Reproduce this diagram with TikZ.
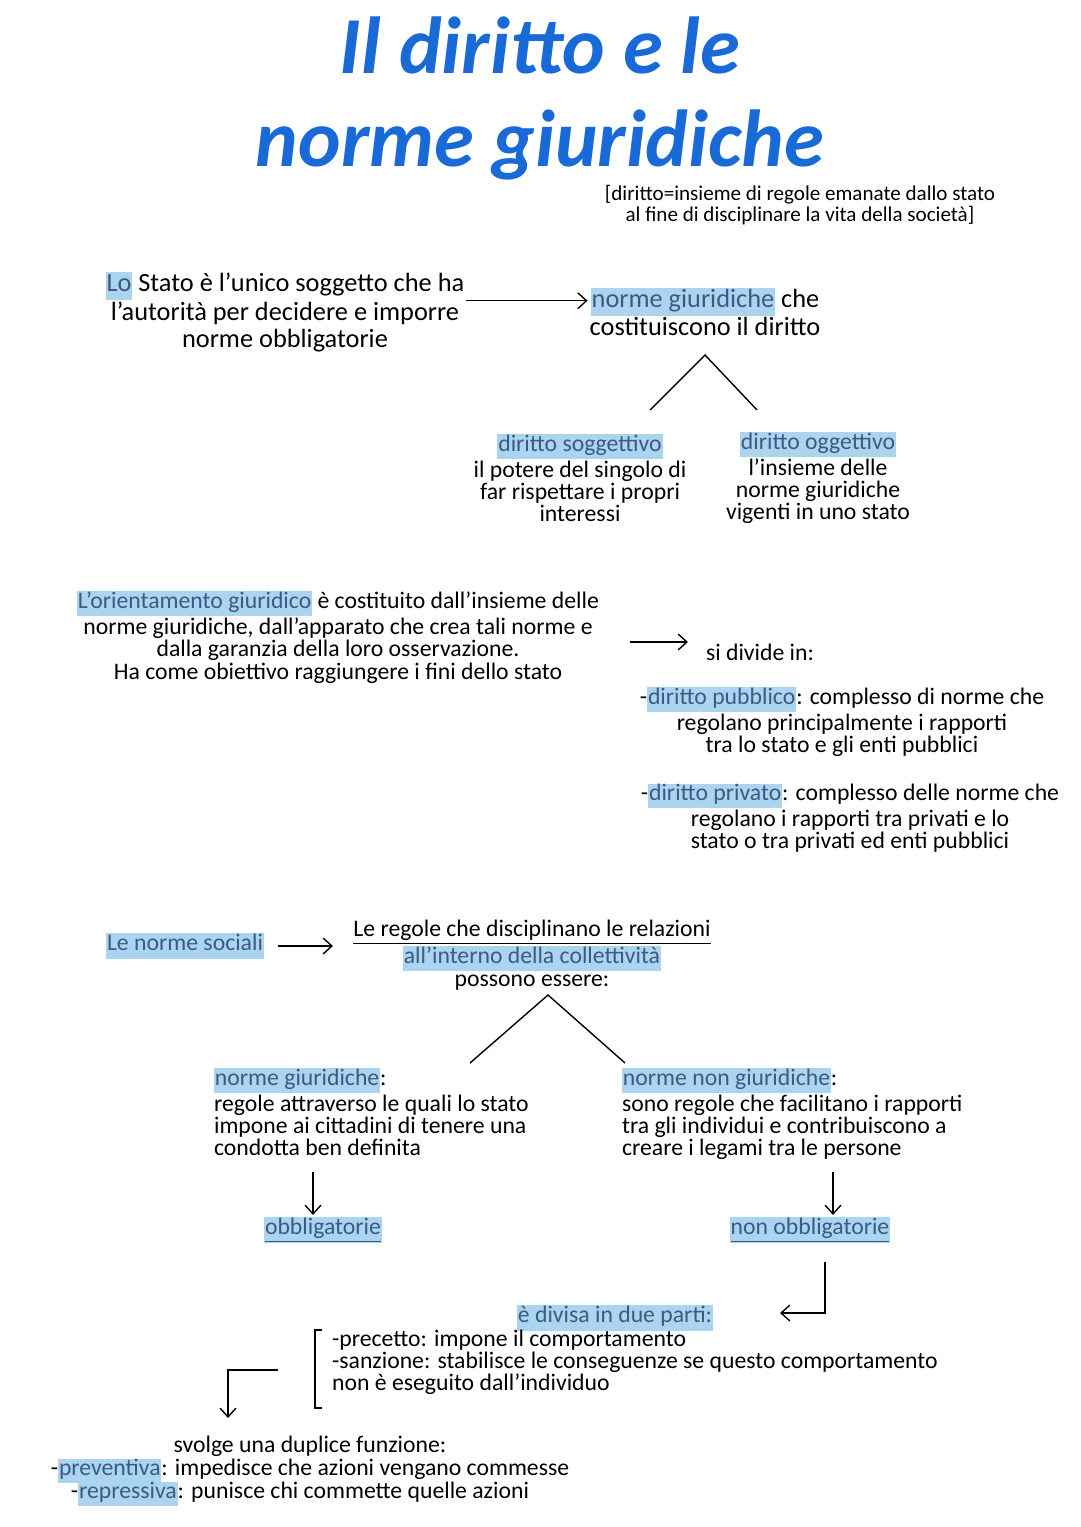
\documentclass[tikz,border=0pt]{standalone}
\usepackage{fontspec}
\setmainfont{Carlito}
\usetikzlibrary{positioning,arrows.meta}
\definecolor{titleblue}{RGB}{25,105,215}
\definecolor{hlblue}{RGB}{170,212,240}
\definecolor{hltext}{RGB}{60,90,130}
\newcommand{\hl}[1]{{\setlength{\fboxsep}{0.5pt}\colorbox{hlblue}{\strut\color{hltext}#1}}}
\tikzset{
  txt/.style={align=center, font=\fontsize{15}{15}\selectfont, inner sep=1pt},
  small/.style={align=center, font=\fontsize{12}{11.5}\selectfont, inner sep=1pt},
  arr/.style={thick,-{Straight Barb[length=5pt,width=9pt]}},
  ln/.style={thick}
}
\begin{document}
\begin{tikzpicture}[x=0.02cm,y=-0.02cm]
    \useasboundingbox (0,0) rectangle (1080,1527);

    % title
    \node[font=\fontsize{46}{46}\selectfont\bfseries\itshape, text=titleblue] (t1) at (540,45) {Il diritto e le};
    \node[font=\fontsize{46}{46}\selectfont\bfseries\itshape, text=titleblue] (t2) at (540,145) {norme giuridiche};
    \node[small] (def) at (800,205) {[diritto=insieme di regole emanate dallo stato\\al fine di disciplinare la vita della società]};

    % stato
    \node[txt] (stato) at (285,312) {\hl{Lo} Stato è l'unico soggetto che ha\\l'autorità per decidere e imporre\\norme obbligatorie};
    \node[txt] (norme) at (705,312) {\hl{norme giuridiche} che\\costituiscono il diritto};
    \draw[arr] (stato.east |- norme.north west) ++(0,15) coordinate (a1) -- (norme.west |- a1);
    \coordinate (top1) at (705,355);
    \coordinate (l1) at (650,410);
    \coordinate (r1) at (757,410);
    \draw[ln] (l1) -- (top1) -- (r1);
    \node[small, font=\fontsize{13.5}{12.5}\selectfont] (sogg) at (580,478) {\hl{diritto soggettivo}\\il potere del singolo di\\far rispettare i propri\\interessi};
    \node[small, font=\fontsize{13.5}{12.5}\selectfont] (ogg) at (818,478) {\hl{diritto oggettivo}\\l'insieme delle\\norme giuridiche\\vigenti in uno stato};

    % ordinamento
    \node[small, font=\fontsize{13.5}{12.8}\selectfont] (ord) at (338,637) {\hl{L'orientamento giuridico} è costituito dall'insieme delle\\norme giuridiche, dall'apparato che crea tali norme e\\dalla garanzia della loro osservazione.\\Ha come obiettivo raggiungere i fini dello stato};
    \node[small, font=\fontsize{13.5}{13}\selectfont] (divide) at (760,652) {si divide in:};
    \draw[arr] (630,642) coordinate (a2) -- (688,642) coordinate (b2);
    \node[small, font=\fontsize{13.5}{12.5}\selectfont] (pubb) at (842,722) {-\hl{diritto pubblico}: complesso di norme che\\regolano principalmente i rapporti\\tra lo stato e gli enti pubblici};
    \node[small, font=\fontsize{13.5}{12.5}\selectfont] (priv) at (850,818) {-\hl{diritto privato}: complesso delle norme che\\regolano i rapporti tra privati e lo\\stato o tra privati ed enti pubblici};

    % norme sociali
    \node[small, font=\fontsize{13.5}{13}\selectfont] (soc) at (185,946) {\hl{Le norme sociali}};
    \node[small, font=\fontsize{13.5}{13}\selectfont] (regole) at (532,955) {\underline{Le regole che disciplinano le relazioni}\\\hl{all'interno della collettività}\\possono essere:};
    \draw[arr] (soc.east) ++(12,0) coordinate (a3) -- (333,946);
    \coordinate (top2) at (548,995);
    \coordinate (l2) at (470,1063);
    \coordinate (r2) at (625,1063);
    \draw[ln] (l2) -- (top2) -- (r2);
    \node[small, font=\fontsize{13.5}{12.5}\selectfont, align=left, anchor=north west] (giur) at (212,1066) {\hl{norme giuridiche}:\\regole attraverso le quali lo stato\\impone ai cittadini di tenere una\\condotta ben definita};
    \node[small, font=\fontsize{13.5}{12.5}\selectfont, align=left, anchor=north west] (nongiur) at (620,1066) {\hl{norme non giuridiche}:\\sono regole che facilitano i rapporti\\tra gli individui e contribuiscono a\\creare i legami tra le persone};
    \node[small, font=\fontsize{13.5}{13}\selectfont] (obb) at (323,1230) {\hl{\underline{obbligatorie}}};
    \node[small, font=\fontsize{13.5}{13}\selectfont] (nonobb) at (810,1230) {\hl{\underline{non obbligatorie}}};
    \draw[arr] (313,1172) -- (obb.north -| 313,0);
    \draw[arr] (833,1172) -- (nonobb.north -| 833,0);

    % divisa
    \coordinate (c1) at (825,1262);
    \coordinate (c2) at (825,1313);
    \coordinate (c3) at (780,1313);
    \draw[arr] (c1) -- (c2) -- (c3);
    \node[small, font=\fontsize{13.5}{13}\selectfont] (parti) at (615,1318) {\hl{è divisa in due parti:}};
    \node[small, font=\fontsize{13.5}{12.5}\selectfont, align=left, anchor=north west] (prec) at (330,1328) {-precetto: impone il comportamento\\-sanzione: stabilisce le conseguenze se questo comportamento\\non è eseguito dall'individuo};
    \draw[ln] (322,1330) -- (315,1330) -- (315,1408) -- (322,1408);
    \coordinate (d1) at (278,1370);
    \coordinate (d2) at (228,1370);
    \coordinate (d3) at (228,1418);
    \draw[arr] (d1) -- (d2) -- (d3);

    % funzione
    \node[small, font=\fontsize{13.5}{12.5}\selectfont] (funz) at (310,1446) {svolge una duplice funzione:};
    \node[small, font=\fontsize{13.5}{12.5}\selectfont] (prev) at (310,1471) {-\hl{preventiva}: impedisce che azioni vengano commesse};
    \node[small, font=\fontsize{13.5}{12.5}\selectfont] (rep) at (300,1494) {-\hl{repressiva}: punisce chi commette quelle azioni};
\end{tikzpicture}
\end{document}
